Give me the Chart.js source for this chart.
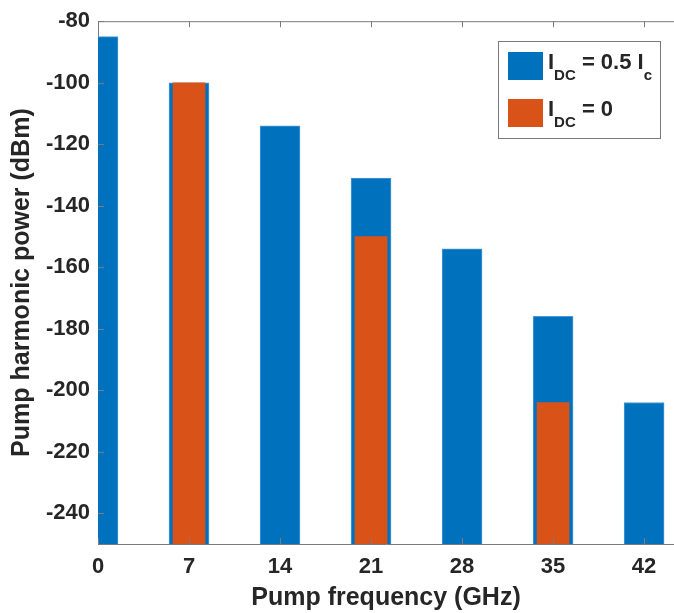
<!DOCTYPE html>
<html>
<head>
<meta charset="utf-8">
<script src="https://cdn.jsdelivr.net/npm/chart.js@4.4.1/dist/chart.umd.min.js"></script>
<style>
  html, body { margin: 0; padding: 0; background: #fff; }
  #wrap { width: 674px; height: 613px; }
</style>
</head>
<body>
<div id="wrap"><canvas id="chart" width="674" height="613"></canvas></div>
<script>
// harmonics of the 7 GHz pump
const freqBiased = [0, 7, 14, 21, 28, 35, 42];
const powerBiased = [-85, -100, -114, -131, -154, -176, -204];
const freqUnbiased = [7, 21, 35];
const powerUnbiased = [-100, -150, -204];
const xTicks = [0, 7, 14, 21, 28, 35, 42];
const yTicks = [-240, -220, -200, -180, -160, -140, -120, -100, -80];
const seriesLabels = ['I_{DC} = 0.5 I_c', 'I_{DC} = 0'];

const FONT = "'Liberation Sans', Arial, Helvetica, sans-serif";
const AXIS_COLOR = '#7a7a7a';
const TEXT_COLOR = '#262626';

// MATLAB style inward ticks + top box line
const boxTicks = {
    id: 'boxTicks',
    afterDatasetsDraw: (chart) => {
        const { ctx, chartArea: { left, top, right, bottom }, scales: { x, y } } = chart;
        ctx.save();
        ctx.strokeStyle = AXIS_COLOR;
        ctx.lineWidth = 1;
        ctx.beginPath();
        ctx.moveTo(left, top + 0.5);
        ctx.lineTo(right, top + 0.5);
        xTicks.forEach(v => {
            const px = Math.round(x.getPixelForValue(v)) + 0.5;
            ctx.moveTo(px, bottom);
            ctx.lineTo(px, bottom - 6);
            ctx.moveTo(px, top);
            ctx.lineTo(px, top + 6);
        });
        yTicks.forEach(v => {
            const py = Math.round(y.getPixelForValue(v)) + 0.5;
            ctx.moveTo(left, py);
            ctx.lineTo(left + 6, py);
        });
        ctx.stroke();
        ctx.restore();
    }
};

// draws "I_{DC} = 0.5 I_c" with real subscripts
function drawSubText(ctx, text, x, baseline) {
    const parts = text.split(/_\{?([A-Za-z0-9]+)\}?/);
    let cx = x;
    parts.forEach((p, i) => {
        const sub = i % 2 === 1;
        ctx.font = 'bold ' + (sub ? 15 : 22) + 'px ' + FONT;
        ctx.fillText(p, cx, sub ? baseline + 11 : baseline);
        cx += ctx.measureText(p).width;
    });
}

const legendBox = {
    id: 'legendBox',
    afterDraw: (chart) => {
        const ctx = chart.ctx;
        const x0 = 498, y0 = 41, w = 162, h = 97;
        ctx.save();
        ctx.fillStyle = '#fff';
        ctx.fillRect(x0, y0, w, h);
        ctx.strokeStyle = AXIS_COLOR;
        ctx.lineWidth = 1;
        ctx.strokeRect(x0 + 0.5, y0 + 0.5, w, h);
        ctx.textBaseline = 'alphabetic';
        ctx.textAlign = 'left';
        [0, 1].forEach(i => {
            const ds = chart.data.datasets[i];
            const rowTop = y0 + 11 + i * 47;
            ctx.fillStyle = ds.backgroundColor;
            ctx.fillRect(x0 + 10, rowTop, 35, 28);
            ctx.fillStyle = TEXT_COLOR;
            drawSubText(ctx, ds.label, x0 + 50, rowTop + 17);
        });
        ctx.restore();
    }
};

new Chart(document.getElementById('chart').getContext('2d'), {
    type: 'bar',
    data: {
        datasets: [{
            label: seriesLabels[0],
            data: freqBiased.map((f, i) => ({ x: f, y: powerBiased[i] })),
            backgroundColor: '#0072BD',
            borderColor: '#4f9ad6',
            borderWidth: 1,
            borderSkipped: 'start',
            barThickness: 40,
            grouped: false,
            base: -250,
            order: 1
        }, {
            label: seriesLabels[1],
            data: freqUnbiased.map((f, i) => ({ x: f, y: powerUnbiased[i] })),
            backgroundColor: '#D95319',
            borderWidth: 0,
            barThickness: 32,
            grouped: false,
            base: -250,
            order: 0
        }]
    },
    options: {
        responsive: false,
        animation: false,
        devicePixelRatio: 1,
        layout: { padding: { left: 0, top: 18, right: 0, bottom: 0 } },
        plugins: {
            legend: { display: false },
            tooltip: { enabled: false }
        },
        scales: {
            x: {
                type: 'linear',
                min: 0,
                max: 44.3,
                offset: false,
                grid: { display: false, drawTicks: false },
                border: { display: true, color: AXIS_COLOR, width: 1 },
                afterBuildTicks: (scale) => { scale.ticks = xTicks.map(v => ({ value: v })); },
                afterFit: (scale) => { scale.height = 69; },
                ticks: {
                    color: TEXT_COLOR,
                    padding: 10,
                    maxRotation: 0,
                    font: { family: FONT, size: 22, weight: 'bold' }
                },
                title: {
                    display: true,
                    text: 'Pump frequency (GHz)',
                    color: TEXT_COLOR,
                    padding: { top: 0, bottom: 0 },
                    font: { family: FONT, size: 25, weight: 'bold' }
                }
            },
            y: {
                type: 'linear',
                min: -250,
                max: -80,
                grid: { display: false, drawTicks: false },
                border: { display: true, color: AXIS_COLOR, width: 1 },
                afterBuildTicks: (scale) => { scale.ticks = yTicks.map(v => ({ value: v })); },
                afterFit: (scale) => { scale.width = 98; },
                ticks: {
                    color: TEXT_COLOR,
                    padding: 8,
                    font: { family: FONT, size: 22, weight: 'bold' }
                },
                title: {
                    display: true,
                    text: 'Pump harmonic power (dBm)',
                    color: TEXT_COLOR,
                    padding: { top: 7, bottom: 0 },
                    font: { family: FONT, size: 25, weight: 'bold' }
                }
            }
        }
    },
    plugins: [boxTicks, legendBox]
});
</script>
</body>
</html>
